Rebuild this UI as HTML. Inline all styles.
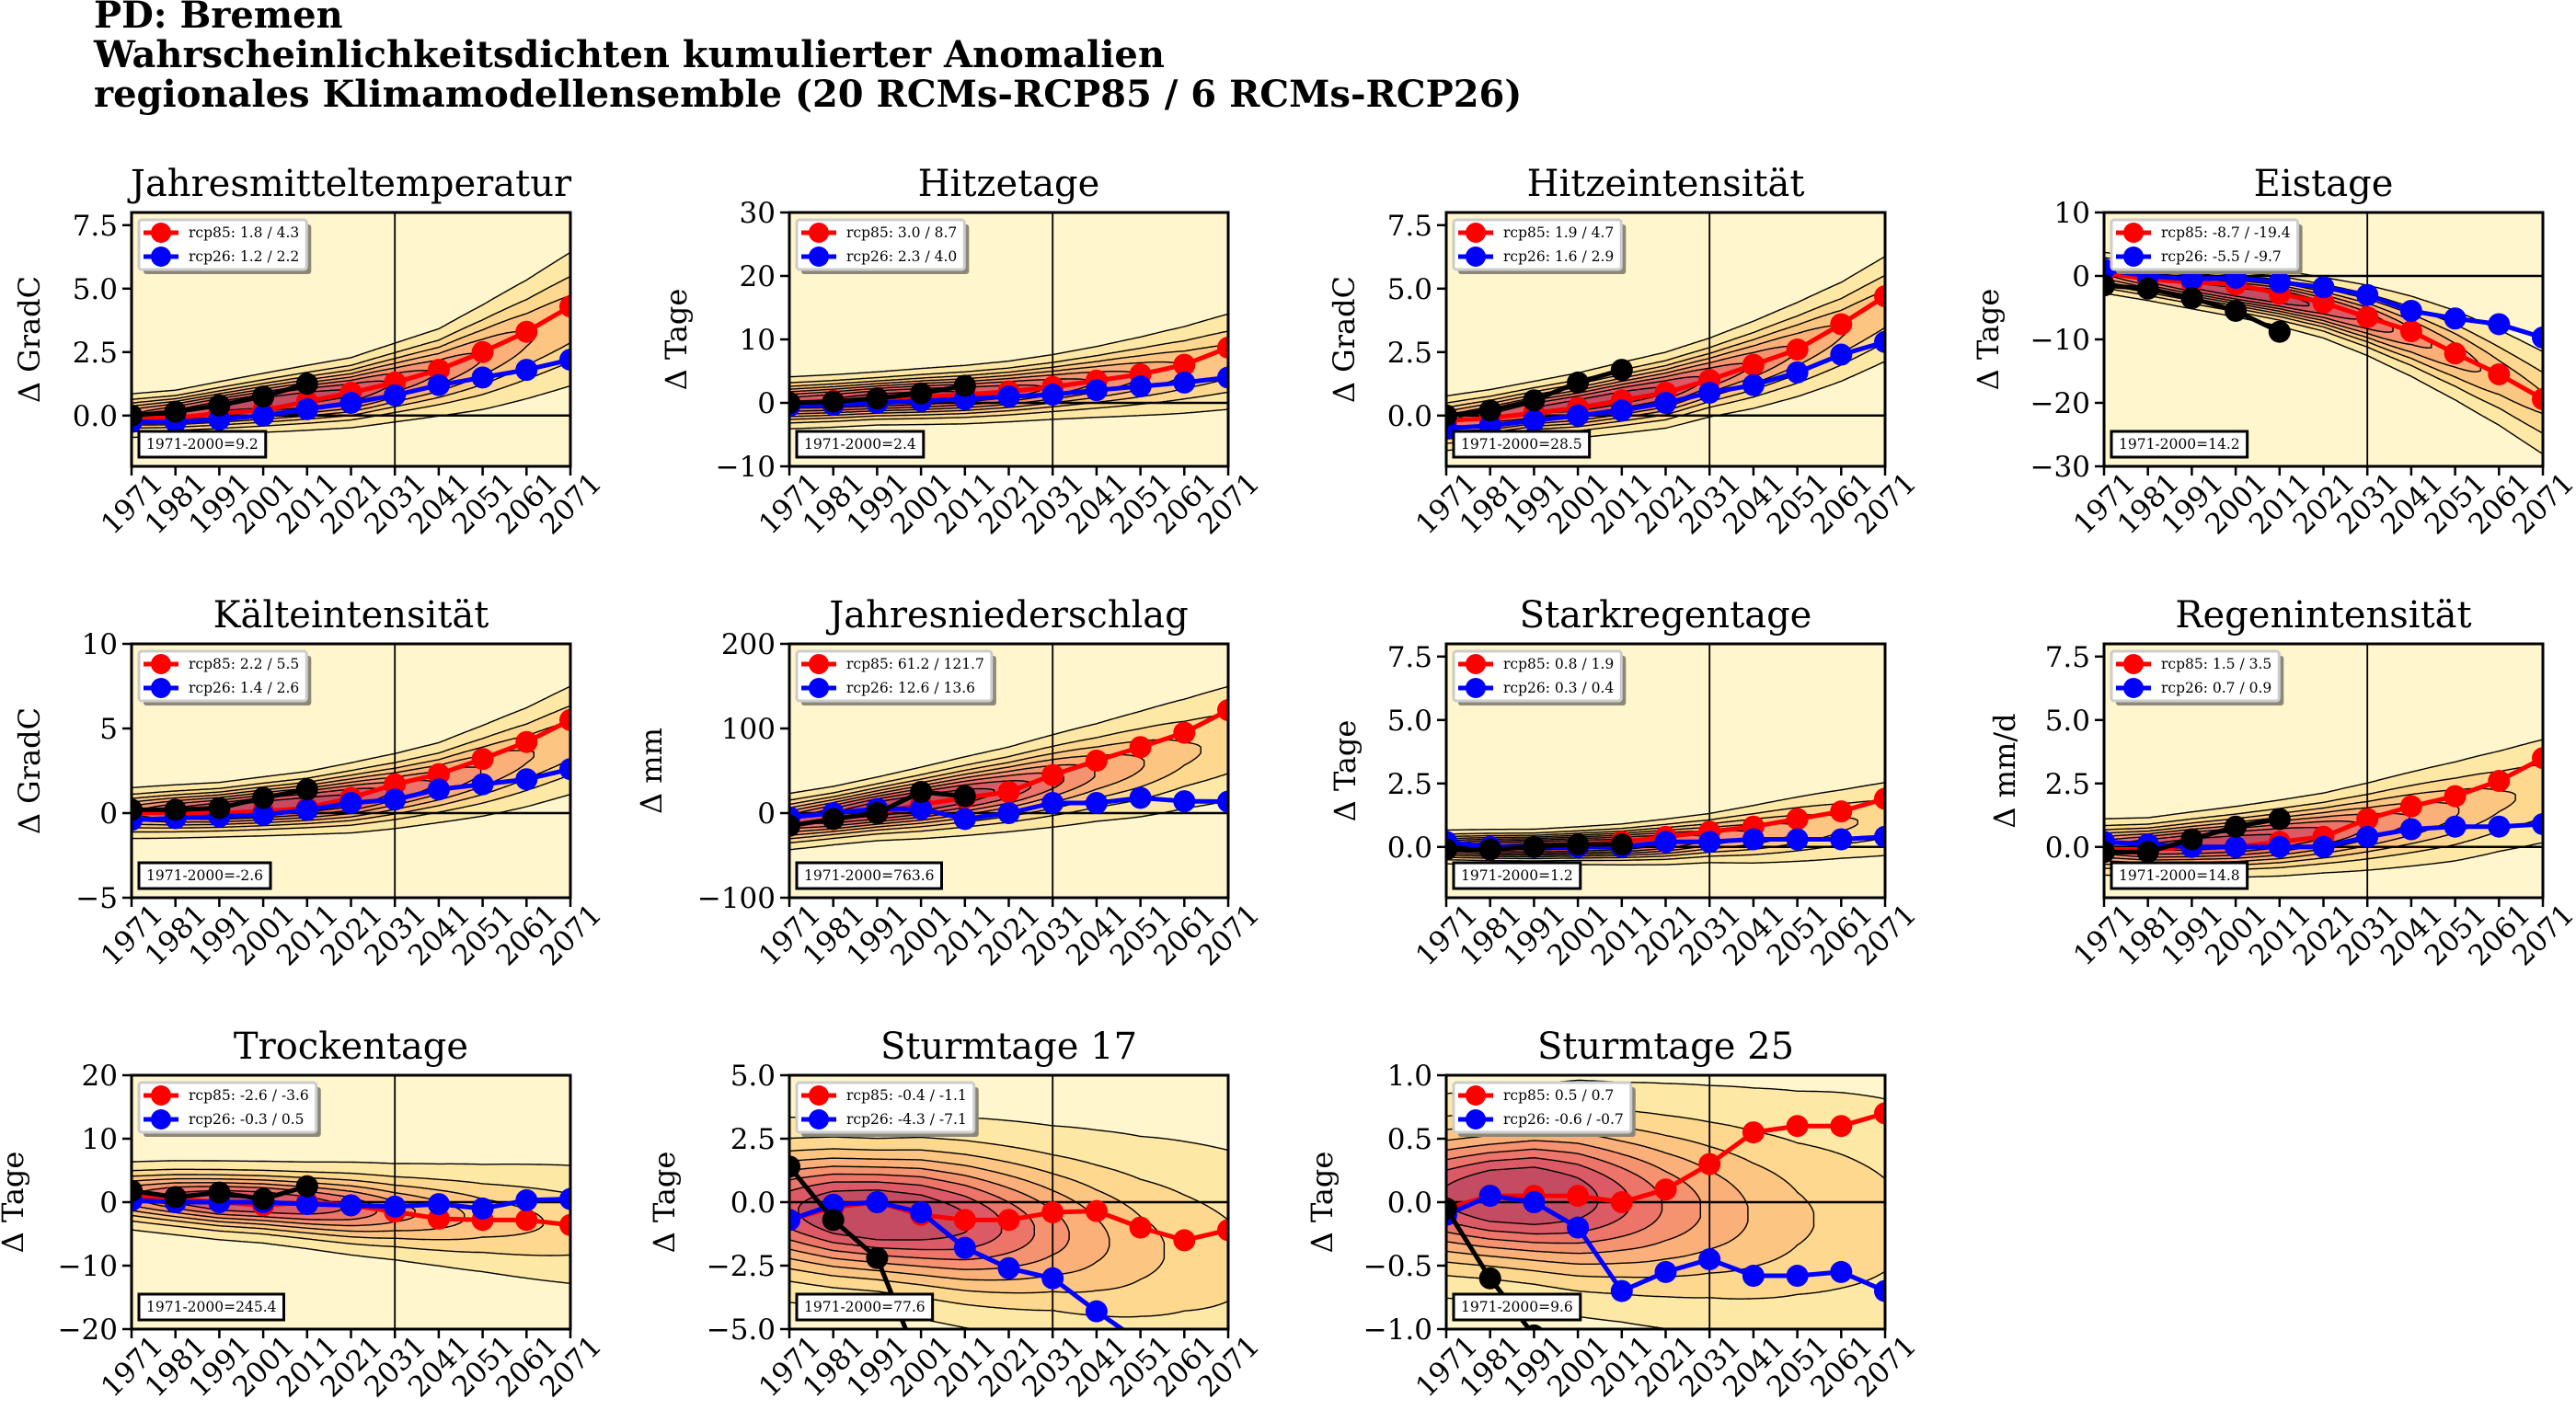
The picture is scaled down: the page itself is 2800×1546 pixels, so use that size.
<!DOCTYPE html>
<html><head><meta charset="utf-8">
<style>
html,body{margin:0;padding:0;background:#fff;}
svg{display:block;}
text{font-family:"DejaVu Serif","Liberation Serif",serif;}
</style></head>
<body>
<svg id="s" width="2800" height="1546" xmlns="http://www.w3.org/2000/svg">
<rect width="2800" height="1546" fill="#fff"/>
<text x="102" y="30" font-size="40" font-weight="bold">PD: Bremen</text>
<text x="102" y="73" font-size="40" font-weight="bold">Wahrscheinlichkeitsdichten kumulierter Anomalien</text>
<text x="102" y="116" font-size="40" font-weight="bold">regionales Klimamodellensemble (20 RCMs-RCP85 / 6 RCMs-RCP26)</text>
</svg>
<script>
const NS="http://www.w3.org/2000/svg";
const svg=document.getElementById('s');
function el(tag,attrs,parent,txt){const e=document.createElementNS(NS,tag);for(const k in attrs)e.setAttribute(k,attrs[k]);if(txt!==undefined)e.textContent=txt;(parent||svg).appendChild(e);return e;}
const Adef=[0.6,0.75,0.85,0.9,0.9,0.85,0.7,0.6,0.5,0.4,0.35];
const P=[
{t:'Jahresmitteltemperatur',yl:'Δ GradC',y:[-2,8],ticks:[[0,'0.0'],[2.5,'2.5'],[5,'5.0'],[7.5,'7.5']],lg:['rcp85: 1.8 / 4.3','rcp26: 1.2 / 2.2'],an:'1971-2000=9.2',off:111,
 r:[-0.1,-0.1,0.1,0.2,0.55,0.9,1.3,1.8,2.5,3.3,4.3],b:[-0.25,-0.25,-0.15,0,0.25,0.5,0.8,1.2,1.5,1.8,2.2],k:[0,0.15,0.4,0.75,1.25],
 c:[0,0.1,0.3,0.5,0.7,0.9,1.3,1.7,2.3,3.0,3.8],s:[0.4,0.4,0.45,0.5,0.55,0.6,0.7,0.8,1.0,1.2,1.4],A:Adef},
{t:'Hitzetage',yl:'Δ Tage',y:[-10,30],ticks:[[-10,'−10'],[0,'0'],[10,'10'],[20,'20'],[30,'30']],lg:['rcp85: 3.0 / 8.7','rcp26: 2.3 / 4.0'],an:'1971-2000=2.4',off:123,
 r:[0,0.3,0.6,0.9,1.3,1.8,2.5,3.5,4.5,6,8.7],b:[-0.5,-0.3,0,0.3,0.6,1,1.3,2,2.6,3.2,4],k:[0,0.2,0.7,1.5,2.7],
 c:[0,0.3,0.7,1,1.3,1.8,2.5,3.3,4.2,5.2,6.5],s:[1.8,1.8,1.8,1.9,2,2.1,2.3,2.6,3,3.5,4],A:[0.8,0.85,0.9,0.9,0.85,0.8,0.7,0.6,0.5,0.4,0.35]},
{t:'Hitzeintensität',yl:'Δ GradC',y:[-2,8],ticks:[[0,'0.0'],[2.5,'2.5'],[5,'5.0'],[7.5,'7.5']],lg:['rcp85: 1.9 / 4.7','rcp26: 1.6 / 2.9'],an:'1971-2000=28.5',off:111,
 r:[-0.2,-0.1,0.1,0.3,0.6,0.9,1.4,2.0,2.6,3.6,4.7],b:[-0.5,-0.4,-0.2,0,0.2,0.5,0.9,1.2,1.7,2.4,2.9],k:[0,0.2,0.6,1.3,1.8],
 c:[-0.3,-0.1,0.2,0.4,0.7,1.0,1.5,2.0,2.6,3.3,4.2],s:[0.5,0.5,0.5,0.55,0.6,0.65,0.7,0.8,0.9,1.0,1.1],A:Adef},
{t:'Eistage',yl:'Δ Tage',y:[-30,10],ticks:[[-30,'−30'],[-20,'−20'],[-10,'−10'],[0,'0'],[10,'10']],lg:['rcp85: -8.7 / -19.4','rcp26: -5.5 / -9.7'],an:'1971-2000=14.2',off:126,
 r:[0.5,-0.5,-1,-1.3,-2.8,-4.2,-6.5,-8.7,-12.2,-15.5,-19.4],b:[1,0,-0.5,-0.3,-1,-1.8,-3,-5.5,-6.7,-7.6,-9.7],k:[-1.5,-2,-3.5,-5.5,-8.8],
 c:[0.5,-0.5,-1.5,-2.5,-3.5,-5,-7,-9.5,-12.5,-16,-20],s:[1.5,1.5,1.6,1.7,1.9,2.1,2.5,3,3.5,4,4.5],A:[0.6,0.75,0.85,0.9,0.9,0.8,0.7,0.55,0.45,0.35,0.3]},
{t:'Kälteintensität',yl:'Δ GradC',y:[-5,10],ticks:[[-5,'−5'],[0,'0'],[5,'5'],[10,'10']],lg:['rcp85: 2.2 / 5.5','rcp26: 1.4 / 2.6'],an:'1971-2000=-2.6',off:111,
 r:[0,0,0,0.1,0.3,0.9,1.7,2.3,3.2,4.2,5.5],b:[-0.4,-0.3,-0.2,-0.1,0.2,0.6,0.8,1.4,1.7,2.0,2.6],k:[0.2,0.2,0.3,0.9,1.4],
 c:[0,0.1,0.2,0.4,0.6,0.9,1.3,1.8,2.5,3.3,4.3],s:[0.7,0.7,0.7,0.75,0.8,0.9,1.0,1.1,1.3,1.5,1.7],A:Adef},
{t:'Jahresniederschlag',yl:'Δ mm',y:[-100,200],ticks:[[-100,'−100'],[0,'0'],[100,'100'],[200,'200']],lg:['rcp85: 61.2 / 121.7','rcp26: 12.6 / 13.6'],an:'1971-2000=763.6',off:150,
 r:[-15,-7,0,10,18,25,45,62,78,95,121.7],b:[-5,0,5,5,-7,0,12,12,18,14,13.6],k:[-15,-7,0,25,20],
 c:[-10,-3,5,12,20,28,38,48,58,70,82],s:[15,15,16,18,20,22,25,28,32,36,40],A:[0.7,0.85,0.95,0.95,0.9,0.8,0.65,0.5,0.4,0.3,0.25]},
{t:'Starkregentage',yl:'Δ Tage',y:[-2,8],ticks:[[0,'0.0'],[2.5,'2.5'],[5,'5.0'],[7.5,'7.5']],lg:['rcp85: 0.8 / 1.9','rcp26: 0.3 / 0.4'],an:'1971-2000=1.2',off:110,
 r:[-0.1,-0.1,0,0.1,0.2,0.4,0.6,0.8,1.1,1.4,1.9],b:[0.2,0,0,0,0,0.2,0.2,0.3,0.3,0.3,0.4],k:[-0.1,-0.1,0,0.1,0.1],
 c:[0,0,0,0.05,0.1,0.2,0.35,0.5,0.7,0.9,1.1],s:[0.3,0.3,0.3,0.32,0.35,0.4,0.45,0.55,0.65,0.75,0.85],A:[0.7,0.85,0.9,0.9,0.85,0.75,0.6,0.5,0.4,0.3,0.25]},
{t:'Regenintensität',yl:'Δ mm/d',y:[-2,8],ticks:[[0,'0.0'],[2.5,'2.5'],[5,'5.0'],[7.5,'7.5']],lg:['rcp85: 1.5 / 3.5','rcp26: 0.7 / 0.9'],an:'1971-2000=14.8',off:108,
 r:[-0.1,-0.1,0,0,0.2,0.4,1.1,1.6,2.0,2.6,3.5],b:[0.2,0.1,0,0,0,0,0.4,0.7,0.8,0.8,0.9],k:[-0.2,-0.2,0.3,0.8,1.1],
 c:[0,0,0.1,0.2,0.35,0.55,0.8,1.1,1.4,1.8,2.2],s:[0.5,0.5,0.55,0.6,0.65,0.7,0.8,0.9,1.0,1.1,1.2],A:[0.7,0.85,0.9,0.9,0.85,0.75,0.6,0.5,0.4,0.3,0.25]},
{t:'Trockentage',yl:'Δ Tage',y:[-20,20],ticks:[[-20,'−20'],[-10,'−10'],[0,'0'],[10,'10'],[20,'20']],lg:['rcp85: -2.6 / -3.6','rcp26: -0.3 / 0.5'],an:'1971-2000=245.4',off:129,
 r:[1,0.5,0,-0.5,0,-0.5,-1.5,-2.6,-2.8,-2.8,-3.6],b:[0.3,0,0,0,-0.3,-0.5,-0.7,-0.3,-1,0.3,0.5],k:[1.8,0.8,1.5,0.5,2.5],
 c:[1,0.7,0.3,0,-0.5,-1,-1.5,-2,-2.5,-3,-3.5],s:[2.5,2.6,2.7,2.8,3,3.3,3.6,4,4.5,5,5.5],A:[0.6,0.75,0.85,0.85,0.8,0.7,0.55,0.45,0.35,0.3,0.25]},
{t:'Sturmtage 17',yl:'Δ Tage',y:[-5,5],ticks:[[-5,'−5.0'],[-2.5,'−2.5'],[0,'0.0'],[2.5,'2.5'],[5,'5.0']],lg:['rcp85: -0.4 / -1.1','rcp26: -4.3 / -7.1'],an:'1971-2000=77.6',off:136,
 r:[-0.7,-0.2,0,-0.5,-0.7,-0.7,-0.4,-0.35,-1,-1.5,-1.1],b:[-0.7,-0.1,0,-0.4,-1.8,-2.6,-3,-4.3,-5.5,-6,-7],k:[1.4,-0.7,-2.2,-6.5,-10],
 c:[-0.3,-0.4,-0.5,-0.6,-0.8,-1,-1.2,-1.5,-1.8,-2,-2.3],s:[1.6,1.6,1.6,1.7,1.8,1.9,2.0,2.2,2.4,2.6,2.8],A:[0.8,0.95,1.0,0.95,0.85,0.7,0.55,0.42,0.32,0.25,0.2]},
{t:'Sturmtage 25',yl:'Δ Tage',y:[-1,1],ticks:[[-1,'−1.0'],[-0.5,'−0.5'],[0,'0.0'],[0.5,'0.5'],[1,'1.0']],lg:['rcp85: 0.5 / 0.7','rcp26: -0.6 / -0.7'],an:'1971-2000=9.6',off:135,
 r:[-0.05,0.05,0.05,0.05,0,0.1,0.3,0.55,0.6,0.6,0.7],b:[-0.1,0.05,0,-0.2,-0.7,-0.55,-0.45,-0.58,-0.58,-0.55,-0.7],k:[-0.05,-0.6,-1.05,-1.5,-2],
 c:[0.05,0.05,0.05,0.03,0,-0.03,-0.06,-0.1,-0.13,-0.15,-0.18],s:[0.35,0.35,0.37,0.4,0.42,0.45,0.48,0.52,0.56,0.6,0.64],A:[0.85,0.98,1,0.9,0.75,0.6,0.48,0.38,0.3,0.25,0.2]}
];
const lefts=[143,858,1572,2287],tops=[231,700,1169],W=477,H=276;
const levels=[0.06,0.17,0.28,0.39,0.5,0.61,0.72,0.83];
const cols=['#fee8a6','#fdd88e','#fdc582','#fbb07a','#f59270','#ec7468','#dc5a66','#c44c62'];
function interp(arr,t){const f=t*10;let i=Math.floor(f);if(i>=10)i=9;if(i<0)i=0;const u=f-i;return arr[i]*(1-u)+arr[i+1]*u;}
P.forEach((p,idx)=>{
 const L=lefts[idx%4],T=tops[Math.floor(idx/4)];
 const [y0,y1]=p.y;
 const X=yr=>L+(yr-1971)/100*W;
 const Y=v=>T+(y1-v)/(y1-y0)*H;
 const cid='c'+idx;
 const cp=el('clipPath',{id:cid});el('rect',{x:L,y:T,width:W,height:H},cp);
 el('rect',{x:L,y:T,width:W,height:H,fill:'#fff6cd'});
 const g=el('g',{'clip-path':'url(#'+cid+')'});
 levels.forEach((lv,li)=>{
  const N=240;let runs=[],cur=null;
  for(let i=0;i<=N;i++){const t=i/N;const A=interp(p.A,t);
   if(A>lv){const hw=interp(p.s,t)*Math.sqrt(2*Math.log(A/lv));const c=interp(p.c,t);
    if(!cur){cur=[];runs.push(cur);}cur.push([L+t*W,Y(c+hw),Y(c-hw)]);}
   else cur=null;}
  runs.forEach(r=>{let d='M'+r.map(q=>q[0].toFixed(1)+','+q[1].toFixed(1)).join('L');
   d+='L'+r.slice().reverse().map(q=>q[0].toFixed(1)+','+q[2].toFixed(1)).join('L')+'Z';
   el('path',{d:d,fill:cols[li],stroke:'#000','stroke-width':1.4},g);});
 });
 el('line',{x1:L,x2:L+W,y1:Y(0),y2:Y(0),stroke:'#000','stroke-width':2.5},g);
 el('line',{x1:X(2031),x2:X(2031),y1:T,y2:T+H,stroke:'#000','stroke-width':1.8},g);
 function series(vals,col){const pts=vals.map((v,i)=>[X(1971+10*i),Y(v)]);
  el('polyline',{points:pts.map(q=>q.join(',')).join(' '),fill:'none',stroke:col,'stroke-width':5,'stroke-linejoin':'round'},g);
  pts.forEach(q=>el('circle',{cx:q[0],cy:q[1],r:12,fill:col},g));}
 series(p.r,'#ff0000');series(p.b,'#0000ff');series(p.k,'#000000');
 el('rect',{x:L,y:T,width:W,height:H,fill:'none',stroke:'#000','stroke-width':3});
 p.ticks.forEach(tk=>{const yy=Y(tk[0]);
  el('line',{x1:L-10,x2:L,y1:yy,y2:yy,stroke:'#000','stroke-width':2.5});
  el('text',{x:L-15,y:yy+11,'text-anchor':'end','font-size':31},null,tk[1]);});
 for(let i=0;i<=10;i++){const xx=X(1971+10*i),yr=String(1971+10*i);
  el('line',{x1:xx,x2:xx,y1:T+H,y2:T+H+10,stroke:'#000','stroke-width':2.5});
  const cy=T+H+40;
  el('text',{x:xx,y:cy+11,'text-anchor':'middle','font-size':31,transform:'rotate(-45 '+xx+' '+cy+')'},null,yr);}
 el('text',{x:L+W/2,y:T-18,'text-anchor':'middle','font-size':40},null,p.t);
 const lx=L-p.off;const ly=T+H/2;
 el('text',{x:lx,y:ly,'text-anchor':'middle','dominant-baseline':'central','font-size':32,transform:'rotate(-90 '+lx+' '+ly+')'},null,p.yl);
 const lg=el('g',{});
 const sh=el('rect',{x:L+13,y:T+13,width:10,height:54,fill:'#8c8878',rx:3},lg);
 const bx=el('rect',{x:L+8,y:T+8,width:10,height:54,fill:'#fff',stroke:'#cccccc','stroke-width':3,rx:3},lg);
 let mw=0;
 [['#ff0000',p.lg[0],T+22],['#0000ff',p.lg[1],T+48]].forEach(a=>{
  el('line',{x1:L+13,x2:L+51,y1:a[2],y2:a[2],stroke:a[0],'stroke-width':5},lg);
  el('circle',{cx:L+32,cy:a[2],r:11,fill:a[0]},lg);
  const tx=el('text',{x:L+62,y:a[2]+5,'font-size':15.5},lg,a[1]);
  mw=Math.max(mw,tx.getComputedTextLength());});
 bx.setAttribute('width',mw+62);sh.setAttribute('width',mw+62);
 const ab=el('rect',{x:L+8,y:T+H-38,width:10,height:28,fill:'#fff',stroke:'#000','stroke-width':3});
 const at=el('text',{x:L+16,y:T+H-19,'font-size':15.5},null,p.an);
 ab.setAttribute('width',at.getComputedTextLength()+16);
});
</script>
</body></html>
